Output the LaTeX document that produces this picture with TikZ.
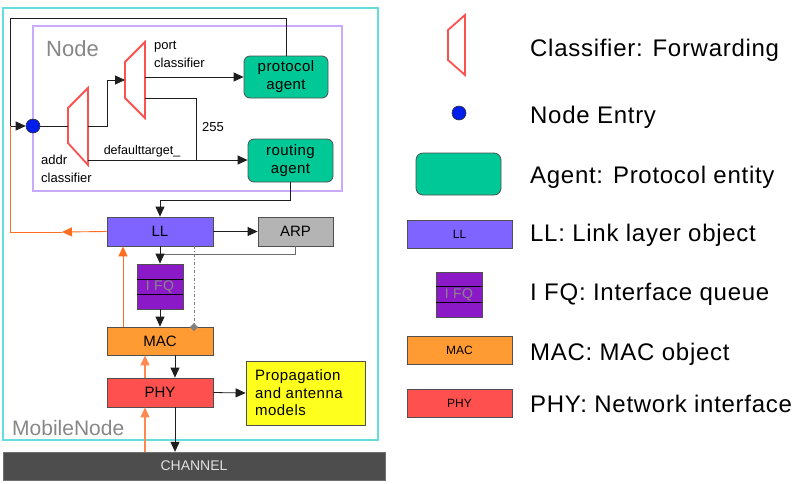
\documentclass[tikz,border=0pt]{standalone}
\usepackage{fontspec}
\setmainfont{Liberation Sans}
\newfontfamily\spfont[LetterSpace=3]{Liberation Sans}
\usetikzlibrary{arrows.meta}
\definecolor{cyanb}{RGB}{102,221,221}
\definecolor{lavb}{RGB}{200,170,255}
\definecolor{clsred}{RGB}{255,80,80}
\definecolor{entryblue}{RGB}{0,30,235}
\definecolor{agentc}{RGB}{0,200,150}
\definecolor{llc}{RGB}{128,100,255}
\definecolor{ifqc}{RGB}{140,25,200}
\definecolor{macc}{RGB}{255,155,50}
\definecolor{phyc}{RGB}{255,80,80}
\definecolor{arpc}{RGB}{180,180,180}
\definecolor{propc}{RGB}{255,255,30}
\definecolor{chanc}{RGB}{77,77,77}
\definecolor{orarr}{RGB}{255,110,30}
\definecolor{orlight}{RGB}{255,135,80}
\definecolor{boxline}{RGB}{80,80,80}
\definecolor{linec}{RGB}{30,30,30}
\definecolor{labgray}{RGB}{135,135,135}
\tikzset{
  blk/.style={draw=boxline, line width=0.8pt, inner sep=0pt, font=\fontsize{15}{17}\selectfont},
  agentbox/.style={blk, fill=agentc, rounded corners=6pt, align=center, font=\spfont\fontsize{15}{18}\selectfont},
  conn/.style={draw=linec, line width=0.8pt},
  arr/.style={conn, -{Triangle[length=10pt,width=9pt]}},
  oarr/.style={draw=orarr, line width=0.9pt, -{Triangle[length=10pt,width=9pt]}},
  olarr/.style={draw=orlight, line width=1.2pt, -{Triangle[length=10pt,width=9pt]}},
  oline/.style={draw=orarr, line width=0.9pt},
  cls/.style={draw=clsred, line width=1.8pt, line join=miter},
  small/.style={font=\fontsize{12.5}{17}\selectfont, inner sep=0pt},
  legtext/.style={anchor=base west, inner sep=0pt, font=\spfont\fontsize{24}{28}\selectfont},
}
\begin{document}
\begin{tikzpicture}[x=1pt,y=-1pt]
\useasboundingbox (0,0) rectangle (800,483);
\fill[white] (0,0) rectangle (800,483);

% containers
\draw[draw=cyanb, line width=1.2pt] (3,8) rectangle (378,440);
\draw[draw=lavb, line width=1.2pt] (33,26) rectangle (342,191);
\node[anchor=west, inner sep=0pt, text=labgray, font=\fontsize{22}{24}\selectfont] (nodelab) at (46,49) {Node};
\node[anchor=west, inner sep=0pt, text=labgray, font=\fontsize{21}{24}\selectfont] (mnlab) at (12,428) {MobileNode};

% classifiers
\draw[cls] (68,108) -- (88,88) -- (88,165) -- (68,143) -- cycle;
\draw[cls] (125,62) -- (145,42) -- (145,118) -- (125,98) -- cycle;
\coordinate (addrin) at (68,126);
\coordinate (addrout) at (88,126);
\coordinate (addrdef) at (88,160);
\coordinate (portin) at (125,80);
\coordinate (portup) at (145,77);
\coordinate (portlow) at (145,98);
\node[small, anchor=west, align=left, font=\fontsize{13}{18}\selectfont] (addrlab) at (41,169) {addr\\classifier};
\node[small, anchor=west, align=left, font=\fontsize{13}{18}\selectfont] (portlab) at (154,54) {port\\classifier};

% entry
\node[circle, fill=entryblue, draw=black!80, line width=0.6pt, minimum size=14pt, inner sep=0pt] (entry) at (33,126) {};

% agents
\node[agentbox, minimum width=84pt, minimum height=42pt] (proto) at (286,77) {protocol\\agent};
\node[agentbox, minimum width=85pt, minimum height=43pt] (routing) at (290.5,160.5) {routing\\agent};

% stack boxes
\node[blk, fill=llc, minimum width=106pt, minimum height=29pt] (LL) at (160,231.5) {LL};
\node[blk, fill=arpc, minimum width=75pt, minimum height=29pt] (ARP) at (295.5,231.5) {ARP};
\node[blk, fill=ifqc, minimum width=46pt, minimum height=45pt, text=labgray, font=\spfont\fontsize{14}{16}\selectfont] (IFQ) at (160,286.5) {I FQ};
\draw[draw=black, line width=0.8pt] (137,279) -- (183,279) (137,294) -- (183,294);
\node[blk, fill=macc, minimum width=106pt, minimum height=28pt] (MAC) at (160,341) {MAC};
\node[blk, fill=phyc, minimum width=106pt, minimum height=29pt] (PHY) at (160,392.5) {PHY};
\node[blk, fill=propc, minimum width=119pt, minimum height=64pt] (prop) at (305.5,393) {};
\node[anchor=west, inner sep=0pt, align=left, font=\spfont\fontsize{15}{17.5}\selectfont] (proptext) at (255,393) {Propagation\\and antenna\\models};
\node[fill=chanc, draw=chanc!80, minimum width=382pt, minimum height=28pt, inner sep=0pt, text=white!88!black, font=\fontsize{14}{16}\selectfont] (chan) at (194,466) {CHANNEL};

% connectors in Node
\coordinate (topL) at (10,18);
\coordinate (lpt) at (10,126);
\draw[conn] (proto.north) |- (topL) -- (lpt);
\draw[arr] (lpt) -- (entry.west);
\draw[conn] (entry.east) -- (addrin);
\coordinate (addrbend) at (107,126);
\draw[arr] (addrout) -- (addrbend) |- (portin);
\draw[arr] (addrdef) -- (addrdef -| routing.west);
\node[small] (deflab) at (142,151.5) {defaulttarget\_};
\draw[arr] (portup) -- (portup -| proto.west);
\coordinate (p255) at (196,98);
\draw[conn] (portlow) -- (p255) -- (p255 |- addrdef);
\node[small, font=\fontsize{13}{15}\selectfont] (lab255) at (213,127) {255};

% orange return to entry
\coordinate (obend) at (10,232);
\coordinate (omid) at (62,232);
\draw[oarr] (LL.west) -- (omid);
\draw[oline] (omid) -- (obend) -- (lpt);

% stack connectors
\coordinate (rjoin) at (290.5,200);
\draw[arr] (routing.south) -- (rjoin) -| (LL.north);
\draw[arr] (LL.east) -- (ARP.west);
\coordinate (arpjoin) at (160,254);
\draw[draw=linec!65, line width=0.8pt] (ARP.south) |- (arpjoin);
\draw[arr] (LL.south) -- (IFQ.north);
\draw[arr] (IFQ.south) -- (MAC.north);
\coordinate (dd1) at (194,246);
\coordinate (dd2) at (194,331);
\draw[draw=gray, line width=0.7pt, dash pattern=on 3pt off 2pt on 1pt off 2pt, -{Diamond[length=8pt,width=8pt,fill=gray,sep=0pt]}] (dd1) -- (dd2);
\draw[oarr] (MAC.north -| 123,0) -- (LL.south -| 123,0);
\draw[arr] (MAC.south -| 175,0) -- (PHY.north -| 175,0);
\draw[olarr] (PHY.north -| 145,0) -- (MAC.south -| 145,0);
\draw[arr] (PHY.east) -- (prop.west);
\draw[arr] (PHY.south -| 175,0) -- (chan.north -| 175,0);
\draw[olarr] (chan.north -| 145,0) -- (PHY.south -| 145,0);

% legend
\draw[cls] (448,30) -- (465,15) -- (465,75) -- (448,60) -- cycle;
\node[legtext] (l1) at (530,56) {Classifier: Forwarding};
\node[circle, fill=entryblue, draw=black!80, line width=0.6pt, minimum size=14pt, inner sep=0pt] (lentry) at (459,113) {};
\node[legtext] (l2) at (530,123) {Node Entry};
\node[blk, fill=agentc, rounded corners=7pt, minimum width=85pt, minimum height=42pt] (lagent) at (458.5,174) {};
\node[legtext] (l3) at (530,183) {Agent: Protocol entity};
\node[blk, fill=llc, minimum width=105pt, minimum height=28pt, font=\fontsize{12}{14}\selectfont] (lLL) at (459.5,234) {LL};
\node[legtext] (l4) at (530,241) {LL: Link layer object};
\node[blk, fill=ifqc, minimum width=46pt, minimum height=45pt, text=labgray, font=\spfont\fontsize{14}{16}\selectfont] (lIFQ) at (459,294.5) {I FQ};
\draw[draw=black, line width=0.8pt] (436,286) -- (482,286) (436,302) -- (482,302);
\node[legtext] (l5) at (530,300) {I FQ: Interface queue};
\node[blk, fill=macc, minimum width=105pt, minimum height=28pt, font=\fontsize{12}{14}\selectfont] (lMAC) at (459.5,350) {MAC};
\node[legtext] (l6) at (530,360) {MAC: MAC object};
\node[blk, fill=phyc, minimum width=105pt, minimum height=28pt, font=\fontsize{12}{14}\selectfont] (lPHY) at (459.5,403) {PHY};
\node[legtext] (l7) at (530,412) {PHY: Network interface};
\end{tikzpicture}
\end{document}
